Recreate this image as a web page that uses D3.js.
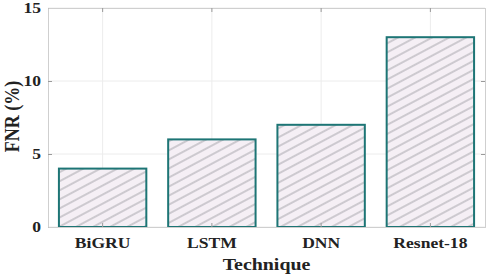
<!DOCTYPE html>
<html lang="en">
<head>
<meta charset="utf-8" />
<script src="https://d3js.org/d3.v7.min.js"></script>
<style>
  body { margin: 0; background: #fff; }
  text { font-family: "Liberation Serif", "Times New Roman", serif; font-weight: bold; fill: #222; }
</style>
</head>
<body>
<div id="chart"></div>
<script>
const techniques = ['BiGRU', 'LSTM', 'DNN', 'Resnet-18'];
const fnrValues = [4, 6, 7, 13];
const yTicks = [0, 5, 10, 15];

const width = 496, height = 274;
const margin = { top: 8, right: 11, bottom: 47, left: 48 };
const stretch = 1.17; // the reference text looks a bit wide

const svg = d3.select('#chart').append('svg')
  .attr('width', width)
  .attr('height', height);

const defs = svg.append('defs');
const pat = defs.append('pattern')
  .attr('id', 'hatch')
  .attr('patternUnits', 'userSpaceOnUse')
  .attr('width', 8)
  .attr('height', 8)
  .attr('patternTransform', 'rotate(-28)');
pat.append('rect').attr('width', 8).attr('height', 8).attr('fill', '#f5eff5');
pat.append('line')
  .attr('x1', 0).attr('y1', 4).attr('x2', 8).attr('y2', 4)
  .attr('stroke', '#9c9ca2').attr('stroke-width', 0.9);

const x = d3.scaleBand()
  .domain(techniques)
  .range([margin.left, width - margin.right])
  .paddingInner(0.2)
  .paddingOuter(0.1);

const y = d3.scaleLinear()
  .domain([0, 15])
  .range([height - margin.bottom, margin.top]);

// grid
svg.append('g')
  .selectAll('line')
  .data(yTicks)
  .join('line')
  .attr('x1', margin.left).attr('x2', width - margin.right)
  .attr('y1', d => y(d)).attr('y2', d => y(d))
  .attr('stroke', '#ececec');

svg.append('g')
  .selectAll('line')
  .data(techniques)
  .join('line')
  .attr('x1', d => x(d) + x.bandwidth() / 2).attr('x2', d => x(d) + x.bandwidth() / 2)
  .attr('y1', margin.top).attr('y2', height - margin.bottom)
  .attr('stroke', '#ececec');

// bars
svg.append('g')
  .selectAll('rect')
  .data(techniques)
  .join('rect')
  .attr('x', d => x(d))
  .attr('y', (d, i) => y(fnrValues[i]))
  .attr('width', x.bandwidth())
  .attr('height', (d, i) => y(0) - y(fnrValues[i]))
  .attr('fill', 'url(#hatch)')
  .attr('stroke', '#1d7575')
  .attr('stroke-width', 2);

// axes
const yAxis = d3.axisLeft(y).tickValues(yTicks).tickSize(-4).tickPadding(6);
const gy = svg.append('g')
  .attr('transform', `translate(${margin.left},0)`)
  .call(yAxis);
gy.selectAll('text').style('font-size', '15px').attr('transform', `scale(${stretch},1)`);

const gyr = svg.append('g')
  .attr('transform', `translate(${width - margin.right},0)`)
  .call(d3.axisRight(y).tickValues(yTicks).tickSize(-4).tickFormat(''));

const xAxis = d3.axisBottom(x).tickSize(-4).tickPadding(10);
const gx = svg.append('g')
  .attr('transform', `translate(0,${height - margin.bottom})`)
  .call(xAxis);
gx.selectAll('text').style('font-size', '15px').attr('transform', `scale(${stretch},1)`);

const gxt = svg.append('g')
  .attr('transform', `translate(0,${margin.top})`)
  .call(d3.axisTop(x).tickSize(-4).tickFormat(''));

[gy, gyr, gx, gxt].forEach(g => {
  g.select('.domain').attr('stroke', '#cfcfcf');
  g.selectAll('.tick line').attr('stroke', '#9a9a9a');
});

svg.append('text')
  .attr('transform', `translate(${(margin.left + width - margin.right) / 2},270) scale(${stretch},1)`)
  .attr('text-anchor', 'middle')
  .style('font-size', '17px')
  .text('Technique');

svg.append('text')
  .attr('transform', `translate(19,${(margin.top + height - margin.bottom) / 2 - 1}) rotate(-90) scale(1,${stretch})`)
  .attr('text-anchor', 'middle')
  .style('font-size', '18px')
  .text('FNR (%)');
</script>
</body>
</html>
